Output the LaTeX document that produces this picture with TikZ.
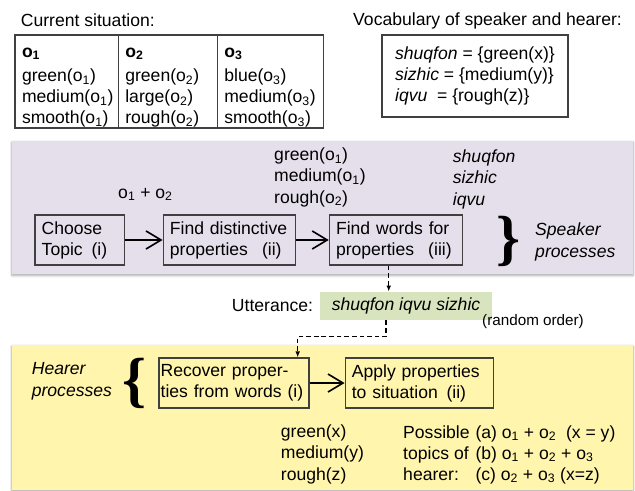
\documentclass[tikz,border=0pt]{standalone}
\usepackage{fontspec}
\setmainfont{Liberation Sans}
\newfontfamily\bracefont{Liberation Serif}
\usetikzlibrary{positioning,arrows.meta,shadows.blur,calc}

\definecolor{speakerbg}{RGB}{229,223,236}
\definecolor{hearerbg}{RGB}{255,245,172}
\definecolor{uttergreen}{RGB}{215,228,189}
\definecolor{boxline}{RGB}{64,64,64}

\newcommand{\bodysize}{\fontsize{15}{18}\selectfont}
\newcommand{\obj}[1]{o\textsubscript{#1}}
\newcommand{\headrow}[1]{\rule{0pt}{18.5pt}\textbf{\obj{#1}}\\[3pt]}

\tikzset{
  lbl/.style={anchor=base west, inner sep=0pt, align=left},
  cell/.style={draw=boxline, line width=1pt, outer sep=0pt, anchor=north west, align=left, inner xsep=0.21cm, inner ysep=0pt, minimum height=2.79cm},
  procbox/.style={draw=boxline, line width=1pt, align=left, inner xsep=0.2cm, minimum height=1.5cm},
  flow/.style={line width=1.4pt, -{Straight Barb[length=4.5mm,width=5.4mm]}},
  talk/.style={line width=1.2pt, dash pattern=on 4pt off 2.5pt, -{Latex[length=1.8mm,width=1.4mm]}},
  band/.style={blur shadow={shadow xshift=0pt, shadow yshift=-1.2pt, shadow blur steps=5, shadow opacity=35}},
  bigbrace/.style={inner sep=0pt, font=\bracefont\bfseries\fontsize{52}{52}\selectfont},
}

\begin{document}
\begin{tikzpicture}[x=0.03cm, y=-0.03cm, font=\bodysize]
  \useasboundingbox (0,0) rectangle (635,490);

  % background bands
  \fill[speakerbg, band] (12,141) rectangle (633,274);
  \fill[hearerbg, band] (12,345) rectangle (633,490);

  % current situation
  \node (sitlabel) [lbl] at (20.7,26) {Current situation:};
  \node (cellone) [cell, text width=2.68cm] at (15,35) {\headrow{1}green(\obj{1})\\medium(\obj{1})\\smooth(\obj{1})};
  \node (celltwo) [cell, text width=2.55cm] at (cellone.north east) {\headrow{2}green(\obj{2})\\large(\obj{2})\\rough(\obj{2})};
  \node (cellthree) [cell, text width=2.76cm] at (celltwo.north east) {\headrow{3}blue(\obj{3})\\medium(\obj{3})\\smooth(\obj{3})};

  % vocabulary
  \node (voclabel) [lbl] at (353,25.5) {Vocabulary of speaker and hearer:};
  \node (vocab) [cell, minimum width=5.58cm, minimum height=2.46cm] at (382,35) {\textit{shuqfon} = \{green(x)\}\\\textit{sizhic} = \{medium(y)\}\\\textit{iqvu}\ \ = \{rough(z)\}};

  % speaker processes
  \node (topic) [procbox, text width=2.28cm] at (79.7,240) {Choose\\Topic\hspace{0.5em}(i)};
  \node (distinct) [procbox, text width=3.57cm, right=1.13cm of topic] {Find distinctive\\properties\hspace{0.8em}(ii)};
  \node (words) [procbox, text width=3.6cm, right=0.98cm of distinct] {Find words for\\properties\hspace{0.8em}(iii)};
  \draw[flow] (topic) -- (distinct);
  \draw[flow] (distinct) -- (words);

  \node (topicobjs) [lbl] at (118,198) {\obj{1} + \obj{2}};
  \node (distprops) [lbl] at (274,203) {green(\obj{1})\\medium(\obj{1})\\rough(\obj{2})};
  \node (wordlist) [lbl, font=\bodysize\itshape] at (452.7,205) {shuqfon\\sizhic\\iqvu};
  \node (spkbrace) [bigbrace] at (508,241.5) {\}};
  \node (spklabel) [lbl, font=\bodysize\itshape] at (535,257) {Speaker\\processes};

  % utterance
  \node (utter) [fill=uttergreen, minimum width=5.16cm, minimum height=0.85cm, inner sep=0pt, font=\bodysize\itshape] at (406,306) {shuqfon iqvu sizhic};
  \node (uttlabel) [lbl] at (231.7,311.7) {Utterance:};
  \node (ordernote) [lbl, font=\fontsize{13}{15}\selectfont] at (482,325) {(random order)};

  % hearer processes
  \node (recover) [procbox, text width=4.4cm, inner xsep=0.05cm] at (234,383) {Recover proper-\\ties from words (i)};
  \node (apply) [procbox, text width=4.04cm, right=1.05cm of recover] {Apply properties\\to situation\hspace{0.5em}(ii)};
  \draw[flow] (recover) -- (apply);

  \node (hrlabel) [lbl, font=\bodysize\itshape] at (31.6,396) {Hearer\\processes};
  \node (hrbrace) [bigbrace] at (134.6,383) {\{};
  \node (recprops) [lbl] at (280.7,480) {green(x)\\medium(y)\\rough(z)};
  \node (topics) [lbl] at (403,438) {\begin{tabular}[t]{@{}l@{\hspace{5pt}}l@{}}
      Possible & (a) \obj{1} + \obj{2}\ \ (x = y)\\
      topics of & (b) \obj{1} + \obj{2} + \obj{3}\\
      hearer: & (c) \obj{2} + \obj{3} (x=z)
    \end{tabular}};

  % utterance passing
  \coordinate (bend) at (297.7,336.7);
  \draw[talk] ([xshift=-0.22cm]words.south) -- ([xshift=-0.22cm]words.south |- utter.north);
  \draw[talk] ([xshift=-0.6cm]utter.south) |- (bend) -- (bend |- recover.north);
\end{tikzpicture}
\end{document}
